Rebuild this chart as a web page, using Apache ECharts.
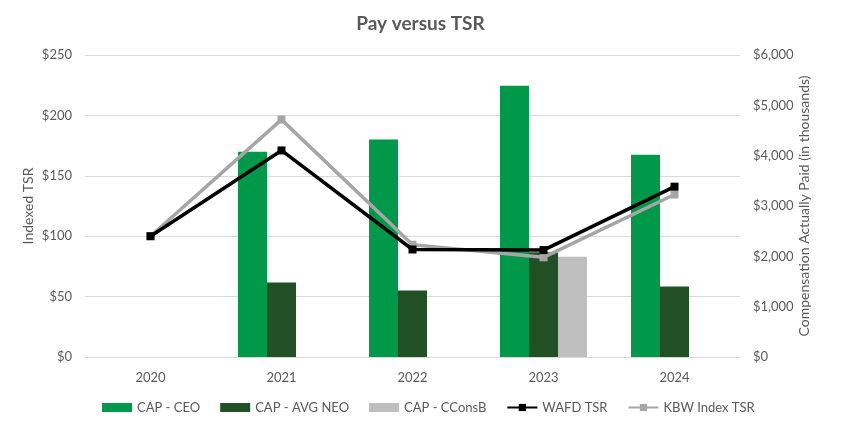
<!DOCTYPE html>
<html>
<head>
<meta charset="utf-8">
<script src="https://cdn.jsdelivr.net/npm/echarts@6/dist/echarts.min.js"></script>
<style>html,body{margin:0;padding:0;background:#fff;}#c{width:841px;height:445px;}</style>
</head>
<body>
<div id="c"></div>
<script>
var years = ['2020', '2021', '2022', '2023', '2024'];
var capCEO = [null, 4080, 4320, 5390, 4020];
var capAvgNEO = [null, 1480, 1320, 2080, 1400];
var capCConsB = [null, null, null, 1990, null];
var wafdTSR = [100, 171, 89, 88.5, 141];
var kbwTSR = [100, 196.5, 93, 82.5, 134.5];

var font = 'Lato, "Open Sans", sans-serif';
var txt = '#595959';
var chart = echarts.init(document.getElementById('c'), null, {renderer: 'canvas'});
chart.setOption({
  animation: false,
  textStyle: {fontFamily: font},
  title: {
    text: 'Pay versus TSR', left: 'center', top: 9,
    textStyle: {fontFamily: font, fontSize: 19, fontWeight: 'bold', color: txt}
  },
  grid: {left: 85, right: 101, top: 55, bottom: 88},
  legend: {
    bottom: 26, left: 97, itemGap: 20, itemWidth: 30, itemHeight: 9,
    textStyle: {fontFamily: font, fontSize: 13, color: txt},
    data: [
      {name: 'CAP - CEO', icon: 'rect'},
      {name: 'CAP - AVG NEO', icon: 'rect'},
      {name: 'CAP - CConsB', icon: 'rect'},
      {name: 'WAFD TSR'},
      {name: 'KBW Index TSR'}
    ]
  },
  xAxis: {
    type: 'category', data: years,
    axisLine: {lineStyle: {color: '#d9d9d9'}},
    axisTick: {show: false},
    axisLabel: {color: txt, fontSize: 13, margin: 14, fontFamily: font}
  },
  yAxis: [
    {
      type: 'value', min: 0, max: 250, interval: 50,
      name: 'Indexed TSR', nameLocation: 'middle', nameGap: 50, nameMoveOverlap: false,
      nameTextStyle: {color: txt, fontSize: 14, fontFamily: font},
      axisLabel: {color: txt, fontSize: 13, margin: 13, formatter: function (v) { return '$' + v; }},
      splitLine: {lineStyle: {color: '#d9d9d9'}},
      axisLine: {show: false}, axisTick: {show: false}
    },
    {
      type: 'value', min: 0, max: 6000, interval: 1000,
      name: 'Compensation Actually Paid (in thousands)', nameLocation: 'middle', nameGap: 57,
      nameMoveOverlap: false, nameRotate: 90,
      nameTextStyle: {color: txt, fontSize: 14, fontFamily: font},
      axisLabel: {color: txt, fontSize: 13, margin: 13, formatter: function (v) { return '$' + v.toLocaleString('en-US'); }},
      splitLine: {show: false},
      axisLine: {show: false}, axisTick: {show: false}
    }
  ],
  series: [
    {name: 'CAP - CEO', type: 'bar', yAxisIndex: 1, data: capCEO, itemStyle: {color: '#00994A'},
     barGap: '0%', barCategoryGap: '33.6%'},
    {name: 'CAP - AVG NEO', type: 'bar', yAxisIndex: 1, data: capAvgNEO, itemStyle: {color: '#225125'}},
    {name: 'CAP - CConsB', type: 'bar', yAxisIndex: 1, data: capCConsB, itemStyle: {color: '#BFBFBF'}},
    {name: 'WAFD TSR', type: 'line', yAxisIndex: 0, data: wafdTSR, symbol: 'rect', symbolSize: 8,
     lineStyle: {color: '#000000', width: 3.5}, itemStyle: {color: '#000000'}, z: 5},
    {name: 'KBW Index TSR', type: 'line', yAxisIndex: 0, data: kbwTSR, symbol: 'rect', symbolSize: 8,
     lineStyle: {color: '#A6A6A6', width: 3.5}, itemStyle: {color: '#A6A6A6'}, z: 4}
  ]
});
</script>
</body>
</html>
